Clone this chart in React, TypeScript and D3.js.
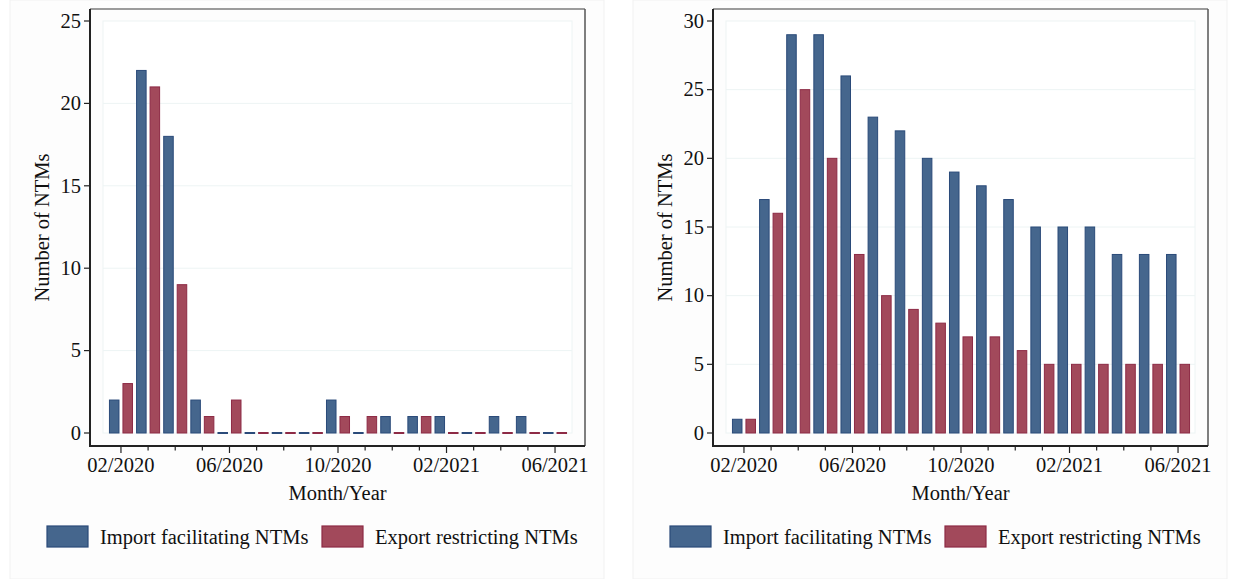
import React from "react";
import * as d3 from "d3";

const months = [
  "02/2020", "03/2020", "04/2020", "05/2020", "06/2020", "07/2020", "08/2020", "09/2020",
  "10/2020", "11/2020", "12/2020", "01/2021", "02/2021", "03/2021", "04/2021", "05/2021", "06/2021",
];
const labeledMonths = ["02/2020", "06/2020", "10/2020", "02/2021", "06/2021"];

// Left panel: new measures per month
const leftImport = [2, 22, 18, 2, 0, 0, 0, 0, 2, 0, 1, 1, 1, 0, 1, 1, 0];
const leftExport = [3, 21, 9, 1, 2, 0, 0, 0, 1, 1, 0, 1, 0, 0, 0, 0, 0];
const leftTicks = [0, 5, 10, 15, 20, 25];

// Right panel: measures in force per month
const rightImport = [1, 17, 29, 29, 26, 23, 22, 20, 19, 18, 17, 15, 15, 15, 13, 13, 13];
const rightExport = [1, 16, 25, 20, 13, 10, 9, 8, 7, 7, 6, 5, 5, 5, 5, 5, 5];
const rightTicks = [0, 5, 10, 15, 20, 25, 30];

const seriesNames = ["Import facilitating NTMs", "Export restricting NTMs"];
const fills = ["#45668d", "#a2495b"];
const strokes = ["#2a4a79", "#8d2a45"];

const FONT = "'Liberation Serif', 'Times New Roman', serif";
const FS = 20.5;

type PanelProps = { ox: number; imp: number[]; exp: number[]; ticks: number[] };

function Panel({ ox, imp, exp, ticks }: PanelProps) {
  const axisX = 90, frameR = 585, frameT = 9, axisY = 446;
  const innerL = 103, innerR = 572, innerT = 21, innerB = 433;
  const yMax = ticks[ticks.length - 1];
  const y = d3.scaleLinear().domain([0, yMax]).range([innerB, innerT]);
  const x = d3.scaleBand<string>().domain(months).range([107.4, 568.6]).padding(0);
  const inner = d3.scaleBand<number>().domain([0, 1]).range([0, x.bandwidth()]).paddingInner(0.22).paddingOuter(0.115);
  const series = [imp, exp];
  const bw = inner.bandwidth();
  return (
    <g transform={`translate(${ox},0)`}>
      <rect x={10} y={0} width={594} height={579} fill="#fdfdfd" stroke="#f1f1f1" strokeWidth={1} />
      <rect x={innerL} y={innerT} width={innerR - innerL} height={innerB - innerT} fill="#ffffff" stroke="#edf4f4" strokeWidth={1} />
      {ticks.filter((t) => t > 0 && t < yMax).map((t) => (
        <line key={t} x1={innerL} x2={innerR} y1={y(t)} y2={y(t)} stroke="#edf4f4" strokeWidth={1} />
      ))}
      {months.map((m, i) =>
        series.map((s, k) => {
          const v = s[i];
          const bx = (x(m) as number) + (inner(k) as number);
          if (v === 0) {
            return <rect key={`${m}-${k}`} x={bx} y={y(0) - 1} width={bw} height={2} fill={strokes[k]} />;
          }
          return (
            <rect key={`${m}-${k}`} x={bx + 0.5} y={y(v)} width={bw - 1} height={y(0) - y(v)}
              fill={fills[k]} stroke={strokes[k]} strokeWidth={1} />
          );
        })
      )}
      {/* frame */}
      <line x1={axisX} x2={frameR} y1={frameT} y2={frameT} stroke="#7a7a7a" strokeWidth={1.5} />
      <line x1={frameR} x2={frameR} y1={frameT} y2={axisY} stroke="#555" strokeWidth={1.5} />
      <line x1={axisX} x2={axisX} y1={frameT} y2={axisY + 1} stroke="#222" strokeWidth={2} />
      <line x1={axisX - 1} x2={frameR} y1={axisY} y2={axisY} stroke="#222" strokeWidth={2} />
      {/* y ticks */}
      {ticks.map((t) => (
        <g key={t}>
          <line x1={84} x2={axisX} y1={y(t)} y2={y(t)} stroke="#222" strokeWidth={1.2} />
          <text x={81} y={y(t)} dy="0.33em" textAnchor="end" fontFamily={FONT} fontSize={FS} fill="#111">{t}</text>
        </g>
      ))}
      {/* x ticks */}
      {months.map((m) => {
        const cx = (x(m) as number) + x.bandwidth() / 2;
        const major = labeledMonths.includes(m);
        return (
          <g key={m}>
            <line x1={cx} x2={cx} y1={axisY} y2={axisY + (major ? 7 : 4.5)} stroke="#222" strokeWidth={1.2} />
            {major && (
              <text x={cx} y={472} textAnchor="middle" fontFamily={FONT} fontSize={FS} fill="#111">{m}</text>
            )}
          </g>
        );
      })}
      <text x={(axisX + frameR) / 2} y={500} textAnchor="middle" fontFamily={FONT} fontSize={FS} fill="#111">Month/Year</text>
      <text transform={`translate(49,${(frameT + axisY) / 2}) rotate(-90)`} textAnchor="middle" fontFamily={FONT} fontSize={FS} fill="#111">Number of NTMs</text>
      {/* legend */}
      {seriesNames.map((n, k) => {
        const bx = k === 0 ? 47 : 322;
        const tx = k === 0 ? 100 : 375;
        return (
          <g key={n}>
            <rect x={bx} y={526} width={41} height={21} fill={fills[k]} stroke={strokes[k]} strokeWidth={1.2} />
            <text x={tx} y={544} fontFamily={FONT} fontSize={FS} fill="#111">{n}</text>
          </g>
        );
      })}
    </g>
  );
}

export default function App() {
  return (
    <svg width={1233} height={579} style={{ position: "absolute", left: 0, top: 0, background: "#fff" }}>
      <rect x={0} y={0} width={1233} height={579} fill="#ffffff" />
      <Panel ox={0} imp={leftImport} exp={leftExport} ticks={leftTicks} />
      <Panel ox={623} imp={rightImport} exp={rightExport} ticks={rightTicks} />
    </svg>
  );
}
